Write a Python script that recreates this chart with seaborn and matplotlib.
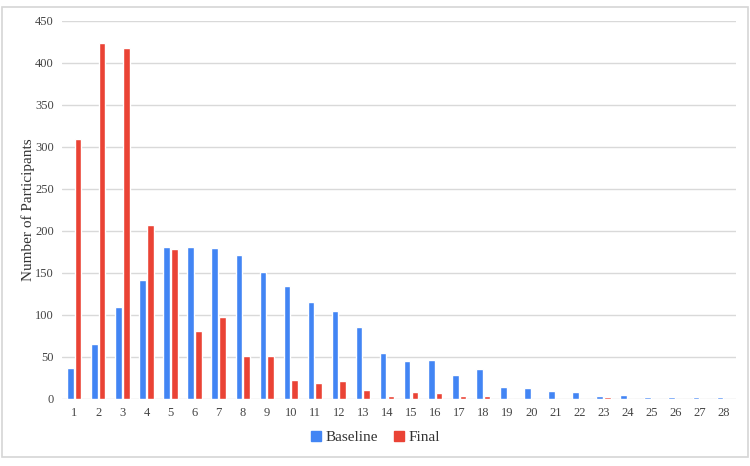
import numpy as np
import pandas as pd
import matplotlib
matplotlib.use("Agg")
import matplotlib.pyplot as plt
import seaborn as sns
from matplotlib.patches import Rectangle
from matplotlib.lines import Line2D

categories = [str(i) for i in range(1, 29)]
baseline = [37, 65, 110, 142, 181, 181, 180, 171, 151, 134, 115, 105, 86, 55,
            45, 47, 28, 36, 14, 13, 10, 8, 3, 5, 2, 2, 2, 2]
final = [310, 424, 418, 207, 179, 81, 98, 51, 51, 23, 19, 22, 11, 4,
         8, 7, 3, 4, 0, 0, 0, 0, 2, 0, 0, 0, 0, 0]
series_names = ["Baseline", "Final"]
colors = ["#4285F4", "#EA4335"]
y_ticks = [0, 50, 100, 150, 200, 250, 300, 350, 400, 450]

df = pd.DataFrame({
    "Score": categories * 2,
    "Count": baseline + final,
    "Series": [series_names[0]] * len(categories) + [series_names[1]] * len(categories),
})

sns.set_theme(style="white")
plt.rcParams["font.family"] = ["Liberation Serif", "DejaVu Serif"]

fig = plt.figure(figsize=(7.5, 4.66), dpi=100)
ax = fig.add_axes([0.083, 0.1438, 0.898, 0.8112])

sns.barplot(data=df, x="Score", y="Count", hue="Series", order=categories,
            hue_order=series_names, palette=colors, width=0.64, gap=0.15,
            saturation=1, ax=ax, legend=False)

ax.set_ylim(0, 450)
ax.set_xlim(-0.5, len(categories) - 0.5)
ax.set_yticks(y_ticks)
ax.yaxis.grid(True, color="#d9d9d9", linewidth=1.0)
ax.set_axisbelow(True)
for s in ax.spines.values():
    s.set_visible(False)
ax.tick_params(axis="both", length=0, labelsize=9, colors="#444444", pad=6)
ax.set_xlabel("")
ax.set_ylabel("Number of Participants", fontsize=11, color="#333333", labelpad=0)

handles = [Line2D([0], [0], marker="s", linestyle="none", markersize=6.5,
                  markerfacecolor=c, markeredgecolor=c) for c in colors]
fig.legend(handles, series_names, loc="center", bbox_to_anchor=(0.5, 0.062),
           ncol=2, frameon=False, fontsize=11, handlelength=0.8,
           handletextpad=0.2, columnspacing=1.0, labelcolor="#333333")

fig.patches.append(Rectangle((0.002, 0.02), 0.995, 0.965, transform=fig.transFigure,
                             fill=False, edgecolor="#d6d6d6", linewidth=1.2))

fig.savefig("out.png", dpi=100)
